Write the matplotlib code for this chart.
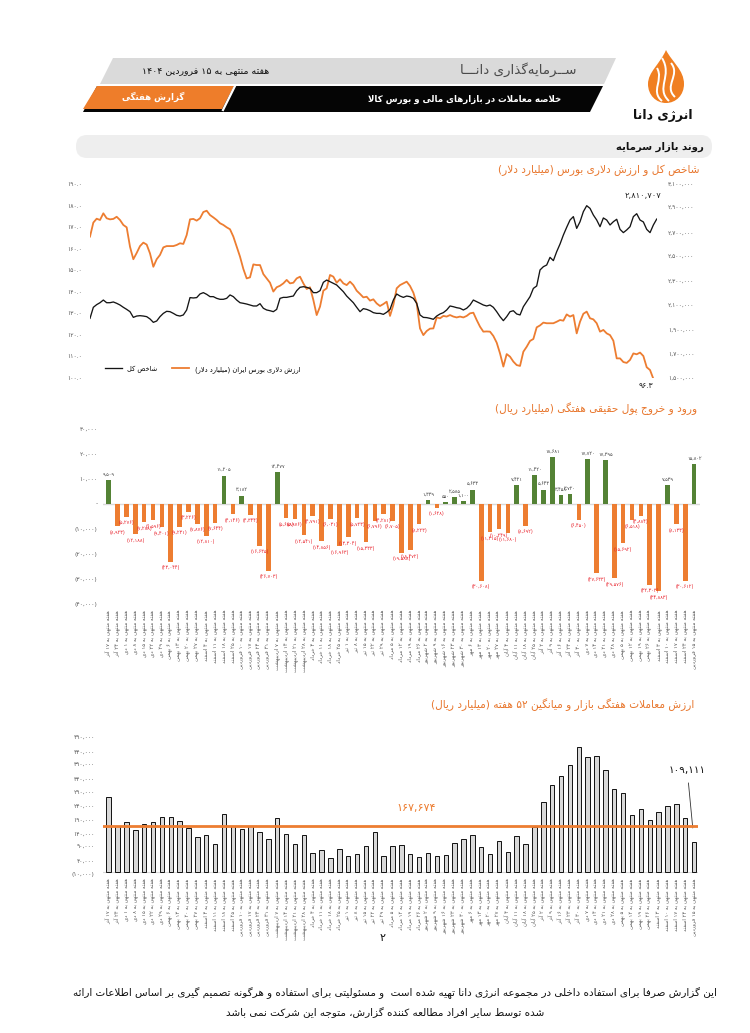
import numpy as np
import matplotlib
matplotlib.use('Agg')
import matplotlib.pyplot as plt
from matplotlib.patches import Polygon, FancyBboxPatch, PathPatch
from matplotlib.path import Path

plt.rcParams['font.family'] = ['DejaVu Sans']

# ---------------- DATA ----------------
# chart 1: total index (thousand points) and dollar value of the exchange (billion USD)
index_k = [1992, 2083, 2105, 2121, 2143, 2121, 2121, 2127, 2116, 2102,
           2083, 2066, 2047, 2000, 2011, 2014, 2011, 2006, 1987, 1959,
           1970, 2006, 2033, 2050, 2047, 2033, 2017, 2011, 2020, 2061,
           2163, 2160, 2163, 2193, 2204, 2190, 2171, 2171, 2157, 2149,
           2149, 2157, 2185, 2171, 2143, 2121, 2116, 2110, 2102, 2094,
           2094, 2113, 2075, 2061, 2055, 2047, 2066, 2157, 2165, 2165,
           2171, 2176, 2220, 2248, 2253, 2248, 2239, 2204, 2204, 2220,
           2289, 2308, 2294, 2281, 2267, 2239, 2212, 2176, 2149, 2121,
           2083, 2047, 2072, 2066, 2055, 2039, 2033, 2033, 2025, 2042,
           2066, 2143, 2193, 2176,
           2165, 2176, 2171, 2157, 2116, 2020, 2000, 1998, 1992, 1984,
           2011, 2028, 2039, 2061, 2094, 2088, 2080, 2075, 2061, 2075,
           2102, 2143, 2130, 2116, 2102, 2094, 2102, 2083, 2047, 2006,
           1973, 2006, 2047, 2055, 2028, 2020, 2088, 2130, 2171, 2239,
           2259, 2391, 2418, 2432, 2495, 2468, 2542, 2605, 2679, 2743,
           2803, 2831, 2734, 2789, 2872, 2921, 2899, 2844, 2803, 2748,
           2820, 2803, 2762, 2789, 2809, 2726, 2699, 2721, 2748, 2831,
           2855, 2803, 2787, 2726, 2699, 2762, 2810.707]
usd_value = [165.6, 172.1, 173.9, 173.3, 176.4, 174.1, 173.6, 173.8, 174.8, 173.3,
             171.0, 169.9, 160.9, 155.1, 158.0, 161.2, 162.8, 161.9, 157.8, 151.6,
             155.1, 157.1, 160.6, 161.2, 161.2, 161.2, 161.7, 162.5, 162.2, 166.3,
             173.6, 173.8, 173.0, 174.1, 177.0, 177.6, 175.6, 174.5, 173.3, 171.8,
             171.0, 169.9, 169.0, 165.6, 160.9, 156.3, 150.6, 146.2, 146.7, 152.7,
             152.4, 152.4, 148.2, 146.2, 144.2, 140.1, 142.1, 142.8, 143.9, 145.5,
             143.9, 144.2, 146.2, 147.0, 143.9, 141.3, 142.1, 136.2, 129.2, 133.1,
             140.5, 141.6, 147.8, 147.0, 144.2, 145.8, 143.9, 143.1, 144.7, 143.1,
             140.5, 139.0, 137.4, 137.7, 135.9, 136.5, 134.6, 133.4, 134.3, 135.4,
             128.8, 133.9, 141.6, 143.1,
             143.9, 144.7, 142.7, 139.6, 134.6, 123.0, 119.9, 121.8, 122.9, 123.0,
             128.1, 127.7, 128.8, 128.5, 129.2, 128.5, 128.1, 128.5, 128.1, 128.8,
             130.0, 130.3, 126.9, 123.8, 121.5, 121.6, 121.5, 119.5, 116.4, 111.4,
             105.3, 111.1, 109.9, 107.6, 106.0, 105.6, 112.2, 114.5, 117.2, 118.1,
             123.5, 124.4, 125.7, 125.4, 125.4, 125.4, 126.1, 126.9, 126.6, 129.5,
             128.5, 129.2, 120.7, 126.1, 129.8, 130.8, 127.7, 127.2, 125.4, 121.5,
             122.3, 120.7, 119.9, 117.3, 109.1, 109.1, 107.4, 107.0, 108.4, 111.4,
             111.0, 111.8, 110.2, 105.0, 103.7, 99.6]
index_last_label = 2810707
usd_last_label = 96.3

# chart 2 / 3: weekly data
week_days = ['۱۷ آذر', '۲۴ آذر', '۱ دی', '۸ دی', '۱۵ دی', '۲۲ دی', '۲۹ دی', '۶ بهمن', '۱۳ بهمن',
             '۲۰ بهمن', '۲۷ بهمن', '۴ اسفند', '۱۱ اسفند', '۱۸ اسفند', '۲۵ اسفند',
             '۱۰ فروردین', '۱۷ فروردین', '۲۴ فروردین', '۳۱ فروردین', '۷ اردیبهشت', '۱۴ اردیبهشت',
             '۲۱ اردیبهشت', '۲۸ اردیبهشت',
             '۴ خرداد', '۱۱ خرداد', '۱۸ خرداد', '۲۵ خرداد', '۱ تیر', '۸ تیر', '۱۵ تیر', '۲۲ تیر', '۲۹ تیر',
             '۵ مرداد', '۱۲ مرداد', '۱۹ مرداد', '۲۶ مرداد', '۲ شهریور', '۹ شهریور', '۱۶ شهریور',
             '۲۳ شهریور', '۳۰ شهریور',
             '۶ مهر', '۱۳ مهر', '۲۰ مهر', '۲۷ مهر', '۴ آبان', '۱۱ آبان', '۱۸ آبان', '۲۵ آبان',
             '۲ آذر', '۹ آذر', '۱۶ آذر', '۲۳ آذر', '۳۰ آذر', '۷ دی', '۱۴ دی', '۲۱ دی', '۲۸ دی',
             '۵ بهمن', '۱۲ بهمن', '۱۹ بهمن', '۲۶ بهمن', '۳ اسفند', '۱۰ اسفند', '۱۷ اسفند', '۲۴ اسفند',
             '۱۵ فروردین']
week_labels = ['هفته منتهی به ' + d for d in week_days]

money_flow = [9509, -8923, -5276, -12188, -7288, -6596, -9401, -23044, -9231, -3226,
              -7876, -12810, -7644, 11205, -4146, 3182, -4344, -16635, -26703, 12477,
              -5688, -5976, -12541, -4791, -14856, -6031, -16963, -13304, -5723, -15333,
              -6796, -4281, -6705, -19588, -18472, -8223, 1339, -1628, 550, 2585,
              1100, 5633, -30608, -11315, -10249, -11680, 7421, -8692, 11420, 5643,
              18681, 3458, 3720, -6450, 17720, -27633, 17395, -29576, -15692, -6518,
              -4884, -32303, -34883, 7539, -8133, -30612, 15802]

trade_value = [275000, 168600, 180900, 154000, 173500, 182100, 199200, 198500, 184500, 160100,
               127100, 133200, 101400, 212600, 166200, 155200, 167400, 144200, 118500, 196700,
               138100, 101400, 133200, 67200, 80700, 50100, 81900, 58700, 64800, 95300,
               145400, 57400, 94100, 96500, 64800, 52500, 67200, 57400, 61100, 105100,
               119800, 133200, 90400, 64800, 111200, 73300, 132000, 101400, 165000, 255400,
               316500, 349500, 392300, 455800, 419100, 422800, 372700, 304300, 287200, 207700,
               228500, 188200, 218700, 239500, 248100, 198000, 109111]
avg_52w = 167674

# ---------------- Persian text helpers ----------------
FORMS = {
    'ء': ('\uFE80', None, None, None), 'آ': ('\uFE81', '\uFE82', None, None),
    'أ': ('\uFE83', '\uFE84', None, None), 'ؤ': ('\uFE85', '\uFE86', None, None),
    'إ': ('\uFE87', '\uFE88', None, None), 'ئ': ('\uFE89', '\uFE8A', '\uFE8B', '\uFE8C'),
    'ا': ('\uFE8D', '\uFE8E', None, None), 'ب': ('\uFE8F', '\uFE90', '\uFE91', '\uFE92'),
    'ة': ('\uFE93', '\uFE94', None, None), 'ت': ('\uFE95', '\uFE96', '\uFE97', '\uFE98'),
    'ث': ('\uFE99', '\uFE9A', '\uFE9B', '\uFE9C'), 'ج': ('\uFE9D', '\uFE9E', '\uFE9F', '\uFEA0'),
    'ح': ('\uFEA1', '\uFEA2', '\uFEA3', '\uFEA4'), 'خ': ('\uFEA5', '\uFEA6', '\uFEA7', '\uFEA8'),
    'د': ('\uFEA9', '\uFEAA', None, None), 'ذ': ('\uFEAB', '\uFEAC', None, None),
    'ر': ('\uFEAD', '\uFEAE', None, None), 'ز': ('\uFEAF', '\uFEB0', None, None),
    'س': ('\uFEB1', '\uFEB2', '\uFEB3', '\uFEB4'), 'ش': ('\uFEB5', '\uFEB6', '\uFEB7', '\uFEB8'),
    'ص': ('\uFEB9', '\uFEBA', '\uFEBB', '\uFEBC'), 'ض': ('\uFEBD', '\uFEBE', '\uFEBF', '\uFEC0'),
    'ط': ('\uFEC1', '\uFEC2', '\uFEC3', '\uFEC4'), 'ظ': ('\uFEC5', '\uFEC6', '\uFEC7', '\uFEC8'),
    'ع': ('\uFEC9', '\uFECA', '\uFECB', '\uFECC'), 'غ': ('\uFECD', '\uFECE', '\uFECF', '\uFED0'),
    'ف': ('\uFED1', '\uFED2', '\uFED3', '\uFED4'), 'ق': ('\uFED5', '\uFED6', '\uFED7', '\uFED8'),
    'ك': ('\uFED9', '\uFEDA', '\uFEDB', '\uFEDC'), 'ل': ('\uFEDD', '\uFEDE', '\uFEDF', '\uFEE0'),
    'م': ('\uFEE1', '\uFEE2', '\uFEE3', '\uFEE4'), 'ن': ('\uFEE5', '\uFEE6', '\uFEE7', '\uFEE8'),
    'ه': ('\uFEE9', '\uFEEA', '\uFEEB', '\uFEEC'), 'و': ('\uFEED', '\uFEEE', None, None),
    'ى': ('\uFEEF', '\uFEF0', None, None), 'ي': ('\uFEF1', '\uFEF2', '\uFEF3', '\uFEF4'),
    'پ': ('\uFB56', '\uFB57', '\uFB58', '\uFB59'), 'چ': ('\uFB7A', '\uFB7B', '\uFB7C', '\uFB7D'),
    'ژ': ('\uFB8A', '\uFB8B', None, None), 'ک': ('\uFB8E', '\uFB8F', '\uFB90', '\uFB91'),
    'گ': ('\uFB92', '\uFB93', '\uFB94', '\uFB95'), 'ی': ('\uFBFC', '\uFBFD', '\uFBFE', '\uFBFF'),
    'ـ': ('\u0640', '\u0640', '\u0640', '\u0640'),
}
LAM_ALEF = {'ا': ('\uFEFB', '\uFEFC'), 'آ': ('\uFEF5', '\uFEF6'),
            'أ': ('\uFEF7', '\uFEF8'), 'إ': ('\uFEF9', '\uFEFA')}


def _jn(c):
    f = FORMS.get(c)
    return f is not None and f[2] is not None


def _jp(c):
    f = FORMS.get(c)
    return f is not None and f[1] is not None


def shape(s):
    out, i, n = [], 0, len(s)
    while i < n:
        c = s[i]
        if c not in FORMS:
            if c != '\u200c':
                out.append(c)
            i += 1
            continue
        prev = s[i - 1] if i > 0 else ''
        pc = _jn(prev) and _jp(c)
        if c == 'ل' and i + 1 < n and s[i + 1] in LAM_ALEF:
            out.append(LAM_ALEF[s[i + 1]][1 if pc else 0])
            i += 2
            continue
        nxt = s[i + 1] if i + 1 < n else ''
        nc = _jn(c) and _jp(nxt)
        f = FORMS[c]
        out.append(f[3] if (pc and nc) else f[1] if pc else f[2] if nc else f[0])
        i += 1
    return ''.join(out)


DIG = set('0123456789۰۱۲۳۴۵۶۷۸۹')
MIR = {'(': ')', ')': '('}


def fa(s):
    t = shape(s)
    toks, i = [], 0
    while i < len(t):
        j = i
        if t[i] in DIG:
            while j < len(t) and (t[j] in DIG or (t[j] in ',.٫' and j + 1 < len(t) and t[j + 1] in DIG)):
                j += 1
            toks.append(('n', t[i:j]))
        else:
            while j < len(t) and t[j] not in DIG:
                j += 1
            toks.append(('a', t[i:j]))
        i = j
    out = []
    for k, tok in reversed(toks):
        out.append(tok if k == 'n' else ''.join(MIR.get(ch, ch) for ch in reversed(tok)))
    return ''.join(out)


PD = str.maketrans('0123456789', '۰۱۲۳۴۵۶۷۸۹')


def pnum(v, dec=0, zero=None):
    if zero is not None and abs(v) < 1e-9:
        return zero
    s = (f'{abs(v):,.{dec}f}' if dec else f'{int(round(abs(v))):,}').translate(PD)
    return f'({s})' if v < 0 else s


# ---------------- FIGURE ----------------
W, H = 750, 1033
fig = plt.figure(figsize=(7.5, 10.33), dpi=100)
ORANGE = '#ED7D31'
TITLE_C = '#E8772E'
GREEN = '#548235'
TICK_C = '#595959'


def ax_px(x0, y0, x1, y1):
    a = fig.add_axes([x0 / W, 1 - y1 / H, (x1 - x0) / W, (y1 - y0) / H])
    a.patch.set_alpha(0)
    return a


bg = fig.add_axes([0, 0, 1, 1], zorder=-5)
bg.set_xlim(0, W)
bg.set_ylim(H, 0)
bg.axis('off')

# header bands
bg.add_patch(Polygon([(100, 84), (113, 58), (616, 58), (604, 84)], closed=True, fc='#dadada', ec='none'))
bg.add_patch(Polygon([(83, 112), (97, 86), (603, 86), (590, 112)], closed=True, fc='#050505', ec='none'))
bg.add_patch(Polygon([(83, 109), (97, 86), (234, 86), (222, 109)], closed=True, fc='#EE7D2A', ec='none'))
bg.plot([235, 223], [86, 110], color='white', lw=1.6)
bg.text(206, 72, fa('هفته منتهی به ۱۵ فروردین ۱۴۰۴'), ha='center', va='center', fontsize=6.8, color='#111111')
bg.text(518, 70, fa('ســرمایه\u200cگذاری دانـــا'), ha='center', va='center', fontsize=9.6, color='#4a4a4a')
bg.text(465, 99, fa('خلاصه معاملات در بازارهای مالی و بورس کالا'), ha='center', va='center',
        fontsize=6.2, color='white', fontweight='bold')
bg.text(153, 97, fa('گزارش هفتگی'), ha='center', va='center', fontsize=6.2, color='white', fontweight='bold')

# logo
V = [(666, 50), (672, 62), (684, 70), (684, 84), (684, 95), (676, 103), (666, 103),
     (656, 103), (648, 95), (648, 84), (648, 72), (660, 64), (666, 50)]
C = [Path.MOVETO] + [Path.CURVE4] * 12
bg.add_patch(PathPatch(Path(V, C), fc='#F07F21', ec='none'))
for sw in [[(669, 101), (655, 88), (673, 76), (662, 58)],
           [(675, 97), (663, 86), (681, 75), (671, 63)],
           [(662, 101), (650, 91), (664, 80), (657, 68)]]:
    bg.add_patch(PathPatch(Path(sw, [Path.MOVETO, Path.CURVE4, Path.CURVE4, Path.CURVE4]),
                           fc='none', ec='white', lw=1.4))
bg.text(663, 116, fa('انرژی دانا'), ha='center', va='center', fontsize=9, fontweight='bold', color='#111111')

# section bar
bg.add_patch(FancyBboxPatch((76, 135), 636, 23, boxstyle='round,pad=0,rounding_size=11',
                            fc='#eeeeee', ec='none'))
bg.text(704, 146.5, fa('روند بازار سرمایه'), ha='right', va='center', fontsize=7.3,
        fontweight='bold', color='#111111')

# titles
bg.text(700, 170, fa('شاخص کل و ارزش دلاری بورس (میلیارد دلار)'), ha='right', va='center',
        fontsize=7.6, color=TITLE_C)
bg.text(697, 409, fa('ورود و خروج پول حقیقی هفتگی (میلیارد ریال)'), ha='right', va='center',
        fontsize=7.6, color=TITLE_C)
bg.text(694, 705, fa('ارزش معاملات هفتگی بازار و میانگین ۵۲ هفته (میلیارد ریال)'), ha='right',
        va='center', fontsize=7.6, color=TITLE_C)

# footer
bg.text(383, 938, '۲', ha='center', va='center', fontsize=8, color='#111111')
bg.text(395, 993, fa('این گزارش صرفا برای استفاده داخلی در مجموعه انرژی دانا تهیه شده است  و مسئولیتی برای استفاده و هرگونه تصمیم گیری بر اساس اطلاعات ارائه'),
        ha='center', va='center', fontsize=7.5, color='#111111')
bg.text(385, 1013, fa('شده توسط سایر افراد مطالعه کننده گزارش، متوجه این شرکت نمی باشد'),
        ha='center', va='center', fontsize=7.5, color='#111111')

# ---------------- CHART 1 ----------------
ax1 = ax_px(90, 184, 656.7, 378)
ax2 = ax1.twinx()
ax2.patch.set_alpha(0)
xu = np.arange(len(usd_value))
xi = np.arange(len(index_k))
l_usd, = ax1.plot(xu, usd_value, color=ORANGE, lw=1.3, solid_joinstyle='round')
l_idx, = ax2.plot(xi, np.array(index_k) * 1000, color='#151515', lw=0.95)
ax1.set_xlim(0, len(index_k) - 1)
ax1.set_ylim(100, 190)
ax2.set_ylim(1500000, 3100000)
ax1.set_yticks(np.arange(100, 191, 10))
ax1.set_yticklabels([pnum(v, 1) for v in np.arange(100, 191, 10)])
ax2.set_yticks(np.arange(1500000, 3100001, 200000))
ax2.set_yticklabels([pnum(v) for v in np.arange(1500000, 3100001, 200000)])
for a in (ax1, ax2):
    for s in a.spines.values():
        s.set_visible(False)
    a.tick_params(length=0, labelsize=4.3, colors=TICK_C)
ax1.tick_params(axis='y', pad=6)
ax2.tick_params(axis='y', pad=8)
ax1.set_xticks([])
ax2.annotate(pnum(index_last_label), xy=(xi[-1], index_k[-1] * 1000), xytext=(-10, 17),
             textcoords='offset points', ha='center', va='center', fontsize=6, color='#222222',
             annotation_clip=False)
ax1.annotate(pnum(usd_last_label, 1), xy=(len(usd_value) - 1, usd_value[-1]), xytext=(-5, -5),
             textcoords='offset points', ha='center', va='center', fontsize=5.5, color='#222222',
             annotation_clip=False)
leg = ax1.legend([l_idx, l_usd], [fa('شاخص کل'), fa('ارزش دلاری بورس ایران (میلیارد دلار)')],
                 ncol=2, frameon=False, loc='center left', bbox_to_anchor=(0.015, 0.046),
                 fontsize=4.8, handlelength=2.6, columnspacing=2.2, handletextpad=0.8)

# ---------------- CHART 2 ----------------
n = len(money_flow)
xb = np.arange(n)
ax3 = ax_px(103, 428.3, 700, 604.3)
ax3.set_xlim(-0.643, 66.66)
ax3.set_ylim(-40000, 30000)
cols = [GREEN if v > 0 else ORANGE for v in money_flow]
ax3.bar(xb, money_flow, width=0.52, color=cols, zorder=3)
ax3.axhline(0, color='#d9d9d9', lw=1.0, zorder=2)
for x, v in zip(xb, money_flow):
    if v > 0:
        ax3.annotate(pnum(v), xy=(x, v), xytext=(0, 2.5), textcoords='offset points',
                     ha='center', va='bottom', fontsize=3.5, color='#404040')
    else:
        ax3.annotate(pnum(v), xy=(x, v), xytext=(0, -2.5), textcoords='offset points',
                     ha='center', va='top', fontsize=3.5, color='#E8202A')
yt = np.arange(-40000, 30001, 10000)
ax3.set_yticks(yt)
ax3.set_yticklabels([pnum(v, zero='-') for v in yt])
ax3.set_xticks(xb)
ax3.set_xticklabels([fa(s) for s in week_labels], rotation=90, fontsize=3.9)
for s in ax3.spines.values():
    s.set_visible(False)
ax3.tick_params(length=0, colors=TICK_C)
ax3.tick_params(axis='y', labelsize=4.3, pad=4)
ax3.tick_params(axis='x', pad=4)

# ---------------- CHART 3 ----------------
ax4 = ax_px(103, 737.9, 698, 874.3)
ax4.set_xlim(-0.643, 66.44)
ax4.set_ylim(-10000, 490000)
ax4.bar(xb, trade_value, width=0.5, color='#d9d9d9', edgecolor='#111111', lw=0.7, zorder=3)
ax4.axhline(0, color='#d9d9d9', lw=0.8, zorder=2)
ax4.axhline(avg_52w, color=ORANGE, lw=2.0, zorder=4)
ax4.annotate(pnum(avg_52w), xy=(34.7, avg_52w), xytext=(0, 13), textcoords='offset points',
             ha='center', va='center', fontsize=8, color=ORANGE)
ax4.annotate(pnum(trade_value[-1]), xy=(xb[-1], trade_value[-1]), xytext=(-5, 52),
             textcoords='offset points', ha='center', va='center', fontsize=7.5, color='#111111',
             arrowprops=dict(arrowstyle='-', lw=0.6, color='#333333', shrinkA=4, shrinkB=10))
yt4 = np.arange(-10000, 490001, 50000)
ax4.set_yticks(yt4)
ax4.set_yticklabels([pnum(v) for v in yt4])
ax4.set_xticks(xb)
ax4.set_xticklabels([fa(s) for s in week_labels], rotation=90, fontsize=3.8)
for s in ax4.spines.values():
    s.set_visible(False)
ax4.tick_params(length=0, colors=TICK_C)
ax4.tick_params(axis='y', labelsize=4.3, pad=6)
ax4.tick_params(axis='x', pad=3)

fig.savefig('out.png', dpi=100)
